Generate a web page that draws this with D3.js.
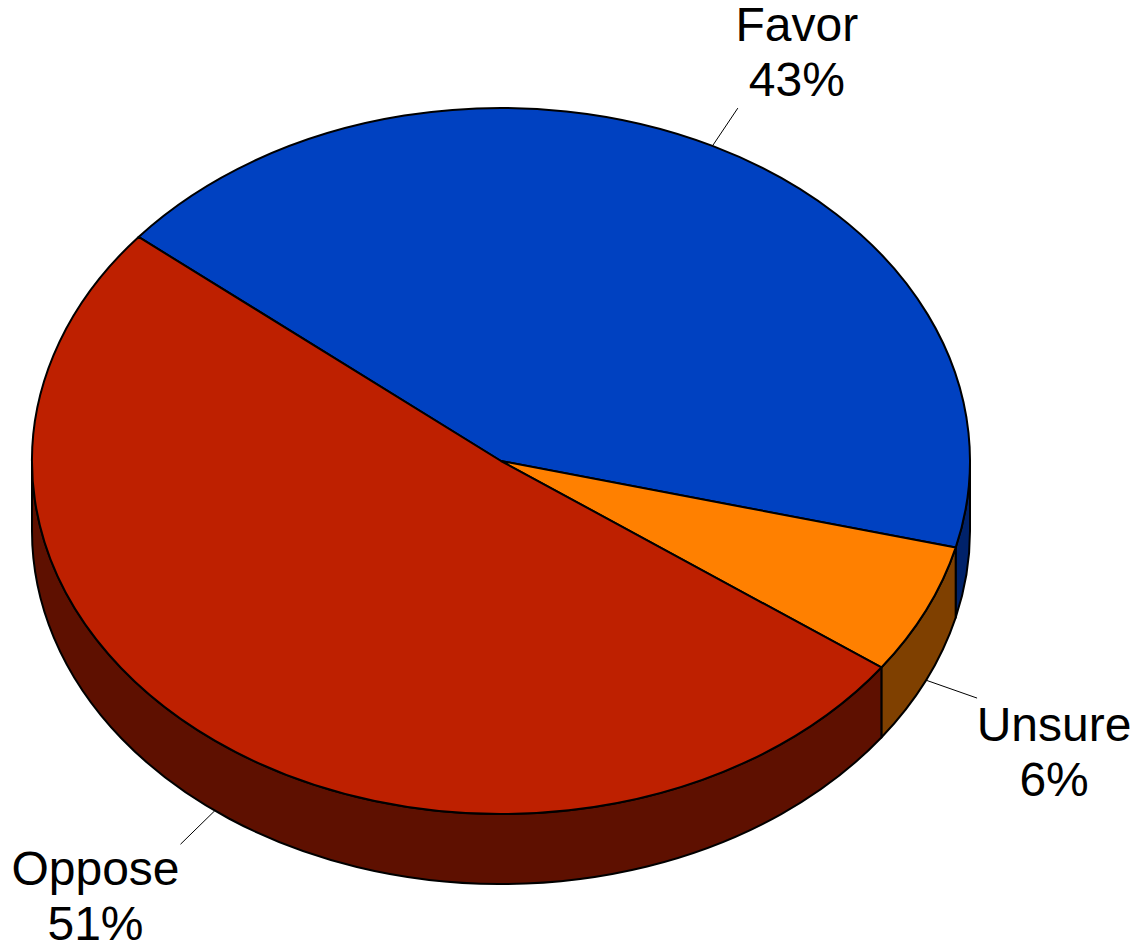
<!DOCTYPE html>
<html>
<head>
<meta charset="utf-8">
<script src="https://cdn.jsdelivr.net/npm/d3@7"></script>
<style>
  body { margin: 0; background: #fff; }
  .lbl { font-family: "Liberation Sans", Arial, sans-serif; font-size: 48px; fill: #000; }
</style>
</head>
<body>
<svg id="chart" width="1133" height="950"></svg>
<script>
// data
var categories = ['Favor', 'Unsure', 'Oppose'];
var values = [43, 6, 51];
var topColors = ['#0041c1', '#ff8000', '#be2000'];
var sideColors = ['#00226a', '#7f4000', '#5e1000'];

// layout
var cx = 501, cy = 461, rx = 469, ry = 353, depth = 70;
var startAngle = -50.6 * Math.PI / 180;
var leaderK = 1.12;
// label offset from the leader's outer end (first baseline)
var labelOffset = { Favor: [59, -67], Unsure: [77, 43], Oppose: [-85, 41] };

var svg = d3.select('#chart');
var data = categories.map(function(c, i) { return { name: c, value: values[i], i: i }; });

var pie = d3.pie()
  .sort(null)
  .value(function(d) { return d.value; })
  .startAngle(startAngle)
  .endAngle(startAngle + 2 * Math.PI);
var arcs = pie(data);

function pt(a, k, off) {
  return [cx + rx * k * Math.sin(a), cy - ry * k * Math.cos(a) + (off || 0)];
}

// side walls (front half only)
var front0 = Math.PI / 2, front1 = 3 * Math.PI / 2;
arcs.forEach(function(a) {
  var b0 = Math.max(a.startAngle, front0);
  var b1 = Math.min(a.endAngle, front1);
  if (b1 <= b0) return;
  var p0 = pt(b0, 1), p1 = pt(b1, 1);
  var d = 'M' + p0 + ' A' + rx + ',' + ry + ' 0 0 1 ' + p1 +
          ' L' + [p1[0], p1[1] + depth] +
          ' A' + rx + ',' + ry + ' 0 0 0 ' + [p0[0], p0[1] + depth] + ' Z';
  svg.append('path')
    .attr('d', d)
    .attr('fill', sideColors[a.data.i])
    .attr('stroke', '#000')
    .attr('stroke-width', 2)
    .attr('stroke-linejoin', 'round');
});

// top faces: circular arcs squashed into an ellipse
var arc = d3.arc().innerRadius(0).outerRadius(rx);
svg.append('g')
  .attr('transform', 'translate(' + cx + ',' + cy + ') scale(1,' + (ry / rx) + ')')
  .selectAll('path')
  .data(arcs)
  .join('path')
  .attr('d', arc)
  .attr('fill', function(d) { return topColors[d.data.i]; })
  .attr('stroke', '#000')
  .attr('stroke-width', 2)
  .attr('stroke-linejoin', 'round')
  .attr('vector-effect', 'non-scaling-stroke');

// leader lines and labels
arcs.forEach(function(a) {
  var mid = (a.startAngle + a.endAngle) / 2;
  var front = Math.cos(mid) < 0;
  var off = front ? depth : 0;
  var p0 = pt(mid, 1, off), p1 = pt(mid, leaderK, off);
  svg.append('line')
    .attr('x1', p0[0]).attr('y1', p0[1])
    .attr('x2', p1[0]).attr('y2', p1[1])
    .attr('stroke', '#000')
    .attr('stroke-width', 1);
  var o = labelOffset[a.data.name];
  var t = svg.append('text')
    .attr('class', 'lbl')
    .attr('text-anchor', 'middle')
    .attr('x', p1[0] + o[0])
    .attr('y', p1[1] + o[1]);
  t.append('tspan').attr('x', p1[0] + o[0]).text(a.data.name);
  t.append('tspan').attr('x', p1[0] + o[0]).attr('dy', 55).text(a.data.value + '%');
});
</script>
</body>
</html>
